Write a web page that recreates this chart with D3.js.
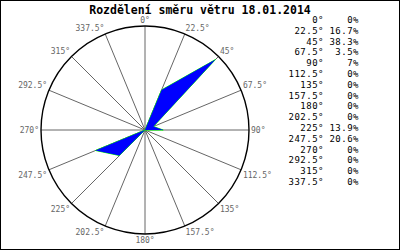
<!DOCTYPE html>
<html>
<head>
<meta charset="utf-8">
<script src="https://cdn.jsdelivr.net/npm/d3@7"></script>
<style>
  body { margin: 0; background: #fff; }
  text { font-family: "DejaVu Sans Mono", monospace; }
</style>
</head>
<body>
<script>
// wind directions (degrees) and share of time in percent
var directions = [0, 22.5, 45, 67.5, 90, 112.5, 135, 157.5, 180, 202.5, 225, 247.5, 270, 292.5, 315, 337.5];
var dirLabels = ["0°", "22.5°", "45°", "67.5°", "90°", "112.5°", "135°", "157.5°", "180°", "202.5°", "225°", "247.5°", "270°", "292.5°", "315°", "337.5°"];
var percents = [0, 16.7, 38.3, 3.5, 7, 0, 0, 0, 0, 0, 13.9, 20.6, 0, 0, 0, 0];
var pctLabels = ["0%", "16.7%", "38.3%", "3.5%", "7%", "0%", "0%", "0%", "0%", "0%", "13.9%", "20.6%", "0%", "0%", "0%", "0%"];
var maxPercent = 40;

var width = 400,
    height = 250,
    cx = 145,
    cy = 130,
    radius = 104;

var svg = d3.select("body").append("svg")
    .attr("width", width)
    .attr("height", height);

svg.append("rect")
    .attr("x", 0.5).attr("y", 0.5)
    .attr("width", width - 1).attr("height", height - 1)
    .attr("fill", "#fff").attr("stroke", "#000");

svg.append("text")
    .attr("x", 200).attr("y", 14)
    .attr("text-anchor", "middle")
    .style("font-size", "11.5px")
    .style("font-weight", "bold")
    .text("Rozdělení směru větru 18.01.2014");

var angle = d3.scaleLinear().domain([0, 360]).range([0, 2 * Math.PI]);
var r = d3.scaleLinear().domain([0, maxPercent]).range([0, radius]);

var g = svg.append("g")
    .attr("transform", "translate(" + cx + "," + cy + ")");

/*
 * Spokes.
 */
g.selectAll(".spoke")
    .data(directions)
    .enter().append("line")
    .attr("class", "spoke")
    .attr("x1", 0).attr("y1", 0)
    .attr("x2", function(d) { return Math.sin(angle(d)) * radius; })
    .attr("y2", function(d) { return -Math.cos(angle(d)) * radius; })
    .attr("stroke", "#666")
    .attr("stroke-width", 1);

g.append("circle")
    .attr("r", radius)
    .attr("fill", "none")
    .attr("stroke", "#000")
    .attr("stroke-width", 1.4);

/*
 * Direction labels round the circle.
 */
g.selectAll(".dirlabel")
    .data(directions)
    .enter().append("text")
    .attr("class", "dirlabel")
    .attr("x", function(d) { return Math.sin(angle(d)) * (radius + 2); })
    .attr("y", function(d) { return -Math.cos(angle(d)) * (radius + 2); })
    .attr("dy", function(d) {
        var c = Math.cos(angle(d));
        if (c > 0.01) return "-1px";
        if (c < -0.01) return "7px";
        return "3px";
    })
    .attr("text-anchor", function(d) {
        var s = Math.sin(angle(d));
        if (s > 0.01) return "start";
        if (s < -0.01) return "end";
        return "middle";
    })
    .style("font-size", "8px")
    .attr("fill", "#666")
    .text(function(d, i) { return dirLabels[i]; });

/*
 * Rose polygon.
 */
var rose = d3.lineRadial()
    .angle(function(d) { return angle(d); })
    .radius(function(d, i) { return r(percents[i]); })
    .curve(d3.curveLinearClosed);

g.append("path")
    .attr("d", rose(directions))
    .attr("fill", "#0000ff")
    .attr("stroke", "#00ff00")
    .attr("stroke-width", 1);

g.append("path")
    .attr("d", rose(directions))
    .attr("fill", "#0000ff");

/*
 * Legend table.
 */
var rowY = d3.scaleLinear().domain([0, directions.length - 1]).range([23, 185]);

var legend = svg.append("g")
    .style("font-size", "9px")
    .style("letter-spacing", "0.5px");

legend.selectAll(".ldir")
    .data(dirLabels)
    .enter().append("text")
    .attr("x", 324)
    .attr("y", function(d, i) { return rowY(i); })
    .attr("text-anchor", "end")
    .text(function(d) { return d; });

legend.selectAll(".lpct")
    .data(pctLabels)
    .enter().append("text")
    .attr("x", 359)
    .attr("y", function(d, i) { return rowY(i); })
    .attr("text-anchor", "end")
    .text(function(d) { return d; });
</script>
</body>
</html>
